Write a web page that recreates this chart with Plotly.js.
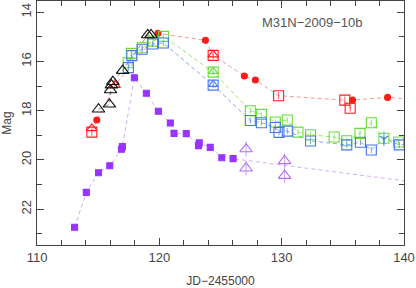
<!DOCTYPE html>
<html><head><meta charset="utf-8">
<script src="https://cdn.plot.ly/plotly-3.0.1.min.js"></script>
<style>html,body{margin:0;padding:0;background:#fff}#plot{width:416px;height:288px}</style>
</head><body><div id="plot"></div>
<script>
// Red filled circles
const redCircX = [114.89, 119.89, 123.77, 126.95, 127.85, 135.79, 138.66];
const redCircY = [18.38, 14.85, 15.14, 16.59, 16.75, 17.57, 17.46];
// Red open squares
const redSqX = [114.48, 124.4, 129.75, 135.16, 135.6];
const redSqY = [18.87, 15.75, 17.39, 17.57, 17.9];
// Red open triangles
const redTriX = [114.48, 116.39, 124.4];
const redTriY = [18.72, 16.96, 15.72];
const redTailX = [141];
const redTailY = [17.55];
// Green open squares
const grnX = [117.45, 117.72, 118.61, 119.49, 120.35, 124.4, 127.44, 128.34, 129.48, 130.46, 131.33, 132.36, 134.29, 135.32, 136.4, 137.33, 138.36, 139.56];
const grnY = [16.05, 15.67, 15.44, 15.17, 14.98, 16.43, 18.0, 18.15, 18.46, 18.38, 18.87, 18.98, 19.07, 19.22, 18.92, 18.49, 19.12, 19.27];
const grnTriX = [124.4];
const grnTriY = [16.4];
// Blue open squares
const bluX = [117.47, 117.75, 118.59, 119.45, 120.33, 124.4, 127.44, 128.34, 129.48, 129.78, 130.46, 132.36, 135.32, 136.44, 137.33, 139.62];
const bluY = [16.25, 15.76, 15.5, 15.29, 15.25, 16.96, 18.4, 18.49, 18.68, 18.88, 18.83, 19.23, 19.39, 19.28, 19.6, 19.39];
const bluTriX = [124.4];
const bluTriY = [16.93];
const bluLimX = [138.36];
const bluLimY = [19.14];
const bluTailX = [141];
const bluTailY = [19.3];
// Black open triangles
const blkX = [115.03, 115.92, 116.01, 116.09, 116.2, 117.0, 119.05, 119.32];
const blkY = [17.94, 17.74, 17.16, 16.96, 16.82, 16.37, 14.92, 14.92];
// Purple filled squares
const purX = [113.07, 114.03, 115.03, 115.95, 116.9, 116.98, 117.96, 118.94, 119.92, 120.9, 121.2, 122.2, 123.2, 123.26, 124.16, 125.11, 126.03];
const purY = [22.74, 21.32, 20.52, 20.24, 19.57, 19.46, 16.66, 17.29, 18.02, 18.5, 18.92, 18.93, 19.42, 19.31, 19.49, 19.91, 19.95];
const purTailX = [140];
const purTailY = [20.85];
// Purple open triangles
const purTriX = [127.09, 127.09, 130.24, 130.24];
const purTriY = [19.56, 20.34, 20.04, 20.64];

const xTicks = [110, 120, 130, 140];
const yTicks = [14, 16, 18, 20, 22];

function sortedLine(xs, ys) {
  const pts = xs.map((x, i) => [x, ys[i]]).sort((a, b) => a[0] - b[0]);
  return {x: pts.map(p => p[0]), y: pts.map(p => p[1])};
}
function lineTrace(xs, ys, color) {
  const s = sortedLine(xs, ys);
  return {x: s.x, y: s.y, mode: 'lines', type: 'scatter', hoverinfo: 'skip',
    line: {color: color, width: 1, dash: '4px,3px'}, showlegend: false};
}
function mk(xs, ys, symbol, color, size, err) {
  const t = {x: xs, y: ys, mode: 'markers', type: 'scatter', showlegend: false,
    marker: {symbol: symbol, size: size, color: color, line: {color: color, width: 1.1}}};
  if (err) t.error_y = {type: 'constant', value: err, color: color, thickness: 0.7, width: 0};
  return t;
}

const RED = '#ff1a1a', GRN = '#66dd33', BLU = '#4477ee', PUR = '#9933ff', PURL = '#b070f0', BLK = '#111111';

const redLine = lineTrace(redCircX.concat(redSqX, [116.39], redTailX), redCircY.concat(redSqY, [16.96], redTailY), 'rgba(255,80,80,0.6)');
const grnLine = lineTrace(grnX, grnY, 'rgba(110,220,60,0.7)');
const bluLine = lineTrace(bluX.concat(bluLimX, bluTailX), bluY.concat(bluLimY, bluTailY), 'rgba(80,130,240,0.7)');
const blkLine = lineTrace(blkX, blkY, 'rgba(60,60,60,0.6)');
const purLine = lineTrace(purX.concat(purTailX), purY.concat(purTailY), 'rgba(190,140,255,0.7)');

const data = [
  purLine, redLine, grnLine, bluLine, blkLine,
  mk(purTriX, purTriY, 'triangle-up-open', PURL, 11, 0.3),
  mk(purX, purY, 'square', PUR, 6),
  mk(redSqX, redSqY, 'square-open', RED, 10, 0.15),
  mk(redTriX, redTriY, 'triangle-up-open', RED, 9),
  mk(redCircX, redCircY, 'circle', RED, 6),
  mk(grnX, grnY, 'square-open', GRN, 10, 0.12),
  mk(grnTriX, grnTriY, 'triangle-up-open', GRN, 8),
  mk(bluX, bluY, 'square-open', BLU, 10, 0.12),
  mk(bluTriX, bluTriY, 'triangle-up-open', BLU, 8),
  mk(bluLimX, bluLimY, 'y-down-open', BLU, 7, 0.3),
  mk(blkX, blkY, 'triangle-up-open', BLK, 11)
];

const axisCommon = {
  showgrid: false, zeroline: false, showline: true, linecolor: '#444', linewidth: 1,
  mirror: 'ticks', ticks: 'inside', ticklen: 7, tickcolor: '#444', tickwidth: 1,
  tickfont: {family: 'Liberation Sans, Arial, sans-serif', size: 13, color: '#444'}
};

const layout = {
  width: 416, height: 288,
  margin: {l: 37, r: 12, t: 1, b: 43},
  paper_bgcolor: '#fff', plot_bgcolor: '#fff',
  xaxis: Object.assign({}, axisCommon, {
    range: [110, 140], tickmode: 'array', tickvals: xTicks, ticktext: xTicks.map(String),
    minor: {dtick: 2, tick0: 110, ticks: 'inside', ticklen: 5, tickcolor: '#444'},
    title: {text: 'JD\u22122455000', standoff: 17,
      font: {family: 'Liberation Sans, Arial, sans-serif', size: 12, color: '#444'}}
  }),
  yaxis: Object.assign({}, axisCommon, {
    range: [23.46, 13.54], tickmode: 'array', tickvals: yTicks, ticktext: yTicks.map(String),
    tickangle: -90,
    minor: {dtick: 1, tick0: 13, ticks: 'inside', ticklen: 5, tickcolor: '#444'},
    title: {text: 'Mag', standoff: 4,
      font: {family: 'Liberation Sans, Arial, sans-serif', size: 12, color: '#444'}}
  }),
  annotations: [{
    xref: 'paper', yref: 'paper', x: 0.75, y: 0.91, xanchor: 'center', yanchor: 'middle',
    text: 'M31N\u22122009\u221210b', showarrow: false,
    font: {family: 'Liberation Sans, Arial, sans-serif', size: 13, color: '#555'}
  }]
};

Plotly.newPlot('plot', data, layout, {staticPlot: true, displayModeBar: false});
</script></body></html>
